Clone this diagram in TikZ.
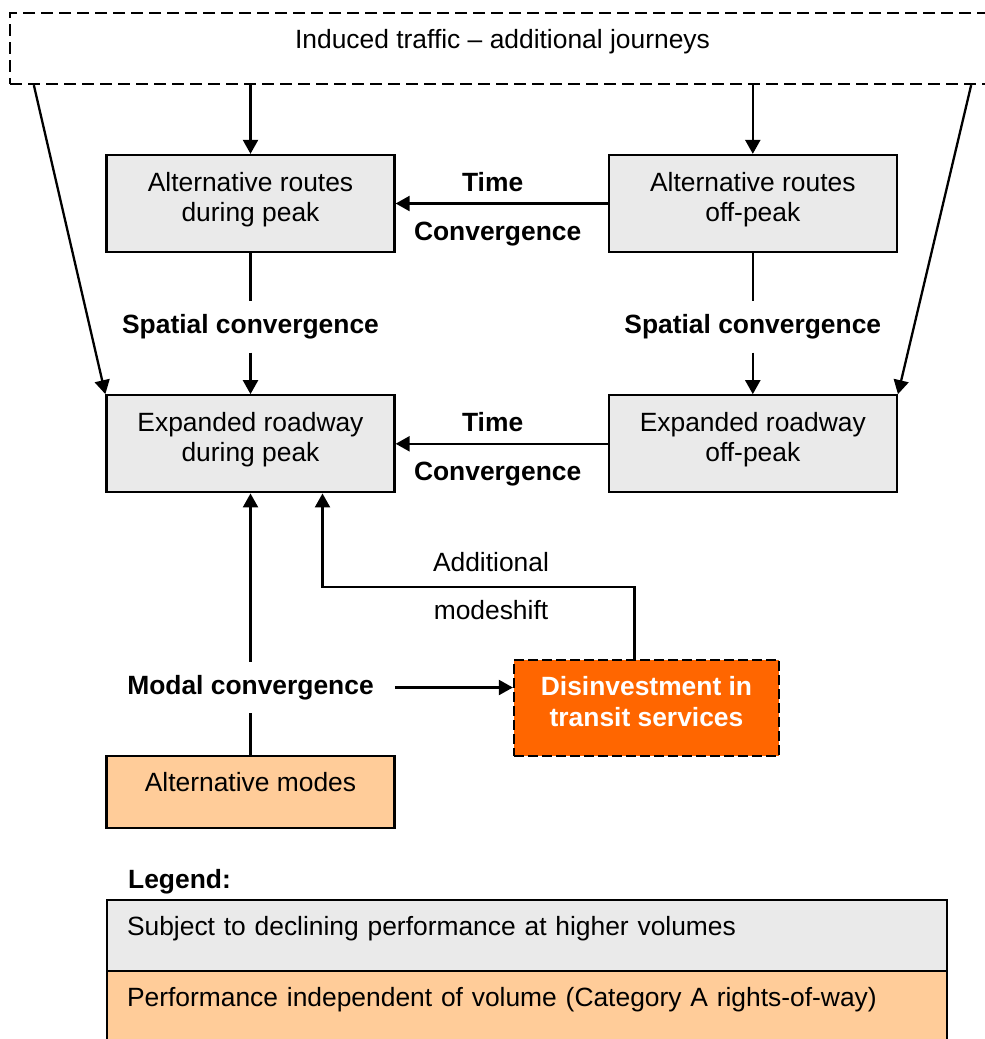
\documentclass[tikz,border=0pt]{standalone}
\usepackage{fontspec}
\setmainfont{Liberation Sans}
\usetikzlibrary{positioning, arrows.meta}
\definecolor{boxgray}{HTML}{EAEAEA}
\definecolor{modepeach}{HTML}{FFCC99}
\definecolor{transitorange}{HTML}{FF6600}
\newcommand{\diagfont}{\fontsize{26.4}{30.5}\selectfont}

\begin{document}
\begin{tikzpicture}[x=1pt, y=-1pt, line width=2.3pt, font=\diagfont,
    box/.style = {draw, fill=boxgray, minimum width=288pt, minimum height=97pt, align=center, text depth=13.5pt},
    lbl/.style = {inner xsep=20pt, inner ysep=12pt, font=\diagfont\bfseries},
    legendbox/.style = {draw, minimum width=840pt, minimum height=71pt, text width=800pt, align=left, text depth=19pt},
    arr/.style = {-{Triangle[length=14pt, width=15pt]}}]
                \useasboundingbox (0,0) rectangle (985,1039);
                \clip (0,0) rectangle (985,1039);
                % Nodes
                \node[draw, dash pattern=on 12pt off 6pt, minimum width=985pt, minimum height=71pt, text depth=20pt] (induced) at (502.5,48.5) {Induced traffic – additional journeys};
                \node[box] (altpeak) at (250.5,203.5) {Alternative routes\\during peak};
                \node[box, right=212pt of altpeak] (altoff) {Alternative routes\\off-peak};
                \node[box, below=141pt of altpeak] (exppeak) {Expanded roadway\\during peak};
                \node[box, right=212pt of exppeak] (expoff) {Expanded roadway\\off-peak};
                \node[lbl] (spatpeak) at (250.5,327) {Spatial convergence};
                \node[lbl] (spatoff) at (altoff |- spatpeak) {Spatial convergence};
                \node[lbl] (modal) at (250.5,687.5) {Modal convergence};
                \node[box, fill=modepeach, minimum height=72pt, text depth=20pt] (altmodes) at (250.5,792) {Alternative modes};
                \node[box, fill=transitorange, dash pattern=on 10pt off 4pt, minimum width=265pt, minimum height=96pt, text=white, font=\diagfont\bfseries] (disinv) at (646.5,708) {Disinvestment in\\transit services};
                
                % Legend
                \node[lbl, anchor=west, inner sep=0pt] (legend) at (127,882) {Legend:};
                \node[legendbox, fill=boxgray] (slow) at (527,935.5) {Subject to declining performance at higher volumes};
                \node[legendbox, fill=modepeach] (fixed) at (527,1006.5) {Performance independent of volume (Category A rights-of-way)};
                
                % Lines
                \draw[arr] (altpeak.north |- induced.south) -- (altpeak);
                \draw[arr] (altoff.north |- induced.south) -- (altoff);
                \draw[arr] ([xshift=25pt]induced.south west) -- (exppeak.north west);
                \draw[arr] ([xshift=-25pt]induced.south east) -- (expoff.north east);
                \draw[arr] (altoff) -- node[lbl, above=11pt, xshift=-9pt, inner sep=0pt] {Time} node[lbl, below=17pt, xshift=-4pt, inner sep=0pt] {Convergence} (altpeak);
                \draw[arr] (expoff) -- node[lbl, above=11pt, xshift=-9pt, inner sep=0pt] {Time} node[lbl, below=17pt, xshift=-4pt, inner sep=0pt] {Convergence} (exppeak);
                \draw (altpeak) -- (spatpeak);
                \draw[arr] (spatpeak) -- (exppeak);
                \draw (altoff) -- (spatoff);
                \draw[arr] (spatoff) -- (expoff);
                \draw (altmodes) -- (modal);
                \draw[arr] (modal) -- (exppeak);
                \draw[arr] (modal.east) -- (modal.east -| disinv.west);
                \draw[arr] ([xshift=-12pt]disinv.north) -- ++(0,-72) -| node[pos=0.23, above=14pt, inner sep=0pt] {Additional} node[pos=0.23, below=12pt, inner sep=0pt] {modeshift} ([xshift=72pt]exppeak.south);
                
\end{tikzpicture}
\end{document}
